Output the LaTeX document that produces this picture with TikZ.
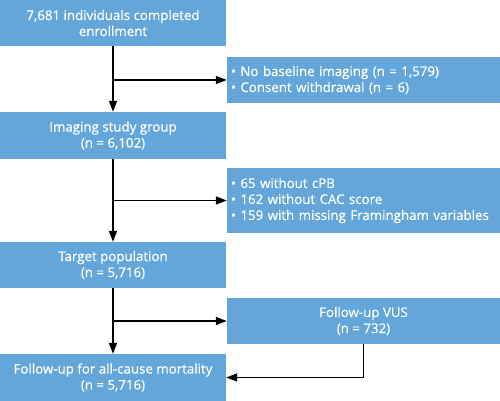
\documentclass[tikz,border=0pt]{standalone}
\usepackage{fontspec}
\setmainfont{Open Sans}[BoldFont=Open Sans, BoldFeatures={FakeBold=0.6}]
\usetikzlibrary{arrows.meta}
\definecolor{boxblue}{RGB}{100,166,218}
\tikzset{
  flowbox/.style={fill=boxblue, text=white, inner sep=0pt, minimum width=226pt,
    minimum height=46pt, align=center, font=\fontsize{13.3}{16}\selectfont\bfseries},
  sidebox/.style={flowbox, minimum width=273pt, text width=265pt, align=left},
  flowarrow/.style={-{Triangle[length=11pt,width=8pt]}, line width=1.5pt}
}
\begin{document}
\begin{tikzpicture}[x=1pt,y=-1pt]
                \useasboundingbox (0,0) rectangle (500,401);
                % main column
                \node[flowbox] (enroll) at (113,23) {7,681 individuals completed\\enrollment};
                \node[flowbox, minimum height=47pt] (imaging) at (113,135.5) {Imaging study group\\(n = 6,102)};
                \node[flowbox] (target) at (113,265) {Target population\\(n = 5,716)};
                \node[flowbox, minimum height=47pt] (mort) at (113,377.5) {Follow-up for all-cause mortality\\(n = 5,716)};
                % side boxes
                \node[sidebox] (excl1) at (363.5,80) {\textbullet\ No baseline imaging (n = 1,579)\\\textbullet\ Consent withdrawal (n = 6)};
                \node[sidebox, minimum height=65pt] (excl2) at (363.5,200.5) {\textbullet\ 65 without cPB\\\textbullet\ 162 without CAC score\\\textbullet\ 159 with missing Framingham variables};
                \node[flowbox, minimum width=273pt] (vus) at (363.5,321) {Follow-up VUS\\(n = 732)};
                % connectors
                \draw[flowarrow] (enroll) -- (imaging);
                \draw[flowarrow] (enroll.south |- excl1.west) -- (excl1.west);
                \draw[flowarrow] (imaging) -- (target);
                \draw[flowarrow] (imaging.south |- excl2.west) -- (excl2.west);
                \draw[flowarrow] (target) -- (mort);
                \draw[flowarrow] (target.south |- vus.west) -- (vus.west);
                \draw[flowarrow] (vus.south) -- (vus.south |- mort.east) -- (mort.east);
\end{tikzpicture}
\end{document}
